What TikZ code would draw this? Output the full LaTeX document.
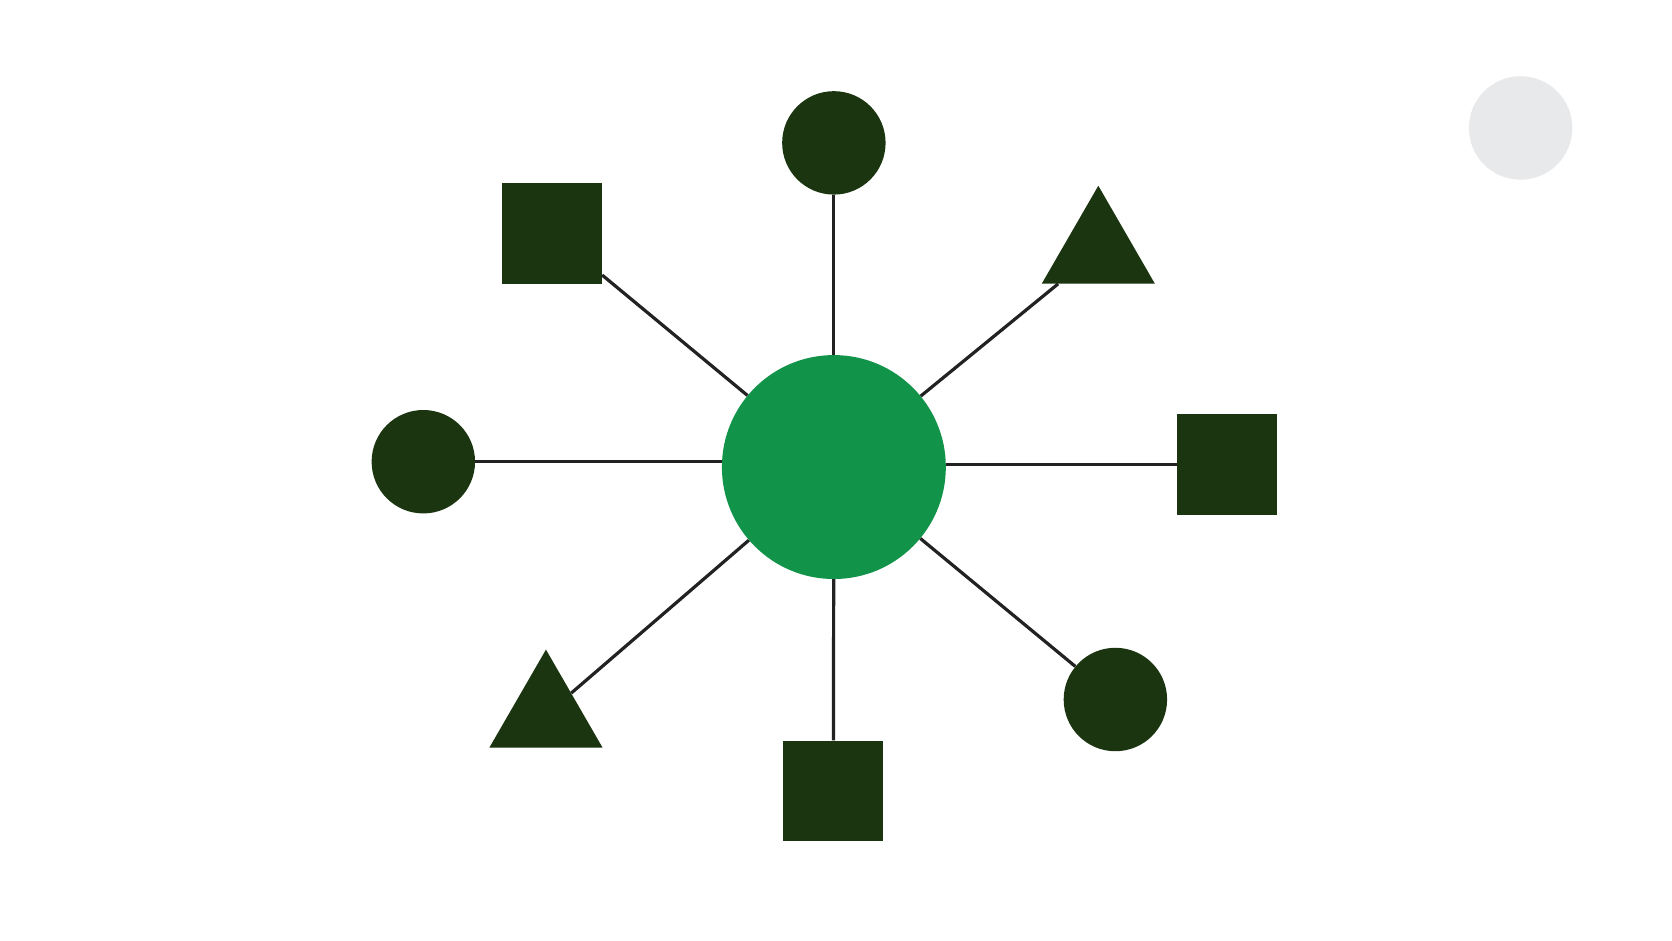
\documentclass[tikz,border=0pt]{standalone}
\usetikzlibrary{shapes.geometric}
\definecolor{hubgreen}{RGB}{18,147,74}
\definecolor{leafdark}{RGB}{26,53,16}
\definecolor{ghost}{RGB}{232,233,235}
\definecolor{linkc}{RGB}{34,34,34}
\tikzset{
  hub/.style={circle, fill=hubgreen, draw=none, inner sep=0pt, minimum size=210pt},
  leafcirc/.style={circle, fill=leafdark, draw=none, inner sep=0pt, minimum size=97pt},
  leafsq/.style={rectangle, fill=leafdark, draw=none, inner sep=0pt, minimum size=94pt},
  leaftri/.style={regular polygon, regular polygon sides=3, fill=leafdark, draw=none, inner sep=0pt, minimum size=122.4pt},
  link/.style={draw=linkc, line width=3pt}
}
\begin{document}
\begin{tikzpicture}[x=1pt,y=-1pt]
\useasboundingbox (0,0) rectangle (1568,882);
\fill[white] (0,0) rectangle (1568,882);
\node[circle, fill=ghost, inner sep=0pt, minimum size=97pt] (ghostdot) at (1426,120) {};
\node[hub] (hub) at (782,438) {};
\node[leafcirc] (ctop) at (782,134) {};
\node[leafcirc] (cleft) at (397,433) {};
\node[leafcirc] (cbr) at (1046,656) {};
\node[leafsq] (sqtl) at (517.5,219) {};
\node[leafsq] (sqr) at (1151,435.5) {};
\node[leafsq] (sqb) at (781.5,741.5) {};
\node[leaftri] (tritr) at (1030,235.4) {};
\node[leaftri] (tribl) at (512,670.4) {};
\draw[link] (hub) -- (ctop);
\draw[link] (hub) -- (sqtl);
\draw[link] (hub) -- (tritr);
\draw[link] (cleft) -- (cleft -| hub.west);
\draw[link] (sqr) -- (sqr -| hub.east);
\draw[link] (hub) -- (tribl);
\draw[link] (hub) -- (sqb);
\draw[link] (hub) -- (cbr);
\end{tikzpicture}
\end{document}
